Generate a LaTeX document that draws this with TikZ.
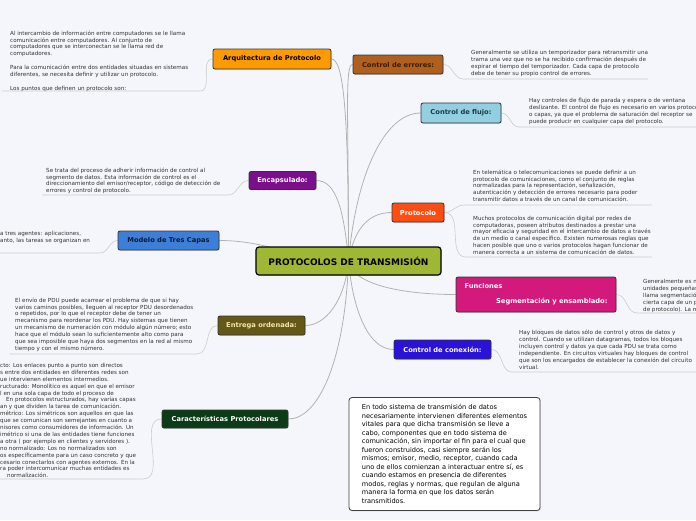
\documentclass[tikz,border=0pt]{standalone}
\usepackage{fontspec}
\setmainfont{DejaVu Sans}
\usetikzlibrary{shadows,backgrounds,calc}
\definecolor{bg}{HTML}{F5F6FB}
\definecolor{cmain}{HTML}{9FB833}
\definecolor{carq}{HTML}{FF9B00}
\definecolor{cerr}{HTML}{B0601E}
\definecolor{cerrtxt}{HTML}{3D1C00}
\definecolor{cflujo}{HTML}{92CFE0}
\definecolor{cflujotxt}{HTML}{1E3B45}
\definecolor{cencap}{HTML}{7B0E8A}
\definecolor{cproto}{HTML}{FF4D12}
\definecolor{cmodelo}{HTML}{3D7FD8}
\definecolor{cmodelotxt}{HTML}{0A1A33}
\definecolor{cfunc}{HTML}{D4197C}
\definecolor{centrega}{HTML}{655816}
\definecolor{centregatxt}{HTML}{F2E6B0}
\definecolor{cconex}{HTML}{2B12D8}
\definecolor{ccarac}{HTML}{0B3B17}
\definecolor{notetxt}{HTML}{333333}
\begin{document}
\begin{tikzpicture}[x=1pt,y=1pt,
  branch/.style={draw=black!80, line width=0.8pt, rounded corners=2pt, inner sep=0pt,
    minimum height=19pt, font=\fontsize{6.7}{8}\selectfont\bfseries,
    drop shadow={shadow xshift=0.6pt, shadow yshift=-0.9pt, opacity=0.25}},
  note/.style={font=\fontsize{5.6}{6.9}\selectfont, text=notetxt, align=left, inner sep=0pt, anchor=north west},
  uline/.style={draw=black!20, line width=0.6pt},
  link/.style={draw=black!30, line width=0.8pt}]
\begin{scope}[on background layer]
\fill[bg] (0,0) rectangle (696,-520);
\end{scope}
\useasboundingbox (0,0) rectangle (696,-520);

% ---------- main and branch nodes ----------
\node[branch, fill=cmain, draw=black, line width=1.2pt, rounded corners=3pt,
  minimum width=185pt, minimum height=28pt, font=\fontsize{9}{10}\selectfont\bfseries]
  (main) at (348.5,-261) {PROTOCOLOS DE TRANSMISIÓN};
\node[branch, fill=carq, minimum width=118pt, minimum height=20pt] (arq) at (272,-59) {Arquitectura de Protocolo};
\node[branch, fill=cerr, text=cerrtxt, minimum width=90pt] (err) at (398,-64.5) {Control de errores:};
\node[branch, fill=cflujo, text=cflujotxt, minimum width=80pt, minimum height=20pt] (flujo) at (461,-113) {Control de flujo:};
\node[branch, fill=cencap, text=white, minimum width=67pt, minimum height=18pt] (encap) at (282.5,-180.5) {Encapsulado:};
\node[branch, fill=cproto, text=white, minimum width=52pt] (proto) at (418,-212.5) {Protocolo};
\node[branch, fill=cmodelo, text=cmodelotxt, minimum width=101pt] (modelo) at (168.5,-240.5) {Modelo de Tres Capas};
\node[branch, fill=cfunc, text=white, minimum width=160pt, minimum height=35pt, align=left]
  (func) at (536,-294.5) {Funciones\\[7pt]\makebox[143pt][r]{Segmentación y ensamblado:}};
\node[branch, fill=centrega, text=centregatxt, minimum width=87pt] (entrega) at (261.5,-325.5) {Entrega ordenada:};
\node[branch, fill=cconex, text=white, minimum width=97pt] (conex) at (442.5,-349.5) {Control de conexión:};
\node[branch, fill=ccarac, text=white, minimum width=126pt, minimum height=18pt] (carac) at (225,-419) {Características Protocolares};

\node[draw=black!75, fill=white, rounded corners=3pt, line width=0.8pt, inner sep=0pt,
  minimum width=191pt, minimum height=113pt, align=left, font=\fontsize{6.6}{8.5}\selectfont,
  drop shadow={shadow xshift=0.6pt, shadow yshift=-0.9pt, opacity=0.25}]
  (box) at (444.5,-454) {En todo sistema de transmisión de datos\\
necesariamente intervienen diferentes elementos\\
vitales para que dicha transmisión se lleve a\\
cabo, componentes que en todo sistema de\\
comunicación, sin importar el fin para el cual que\\
fueron construidos, casi siempre serán los\\
mismos; emisor, medio, receptor, cuando cada\\
uno de ellos comienzan a interactuar entre sí, es\\
cuando estamos en presencia de diferentes\\
modos, reglas y normas, que regulan de alguna\\
manera la forma en que los datos serán\\
transmitidos.};

% ---------- notes ----------
\node[note] (tltxt) at (10,-30.5) {Al intercambio de información entre computadores se le llama\\
comunicación entre computadores. Al conjunto de\\
computadores que se interconectan se le llama red de\\
computadores.\\[6.9pt]
Para la comunicación entre dos entidades situadas en sistemas\\
diferentes, se necesita definir y utilizar un protocolo.\\[6.9pt]
Los puntos que definen un protocolo son:};

\node[note] (errtxt) at (471,-50.5) {Generalmente se utiliza un temporizador para retransmitir una\\
trama una vez que no se ha recibido confirmación después de\\
expirar el tiempo del temporizador. Cada capa de protocolo\\
debe de tener su propio control de errores.};

\node[note] (flujotxt) at (529,-98.5) {Hay controles de flujo de parada y espera o de ventana\\
deslizante. El control de flujo es necesario en varios protocolos\\
o capas, ya que el problema de saturación del receptor se\\
puede producir en cualquier capa del protocolo.};

\node[note] (encaptxt) at (46,-167.5) {Se trata del proceso de adherir información de control al\\
segmento de datos. Esta información de control es el\\
direccionamiento del emisor/receptor, código de detección de\\
errores y control de protocolo.};

\node[note] (prototxta) at (473,-169.5) {En telemática o telecomunicaciones se puede definir a un\\
protocolo de comunicaciones, como el conjunto de reglas\\
normalizadas para la representación, señalización,\\
autenticación y detección de errores necesario para poder\\
transmitir datos a través de un canal de comunicación.};

\node[note] (prototxtb) at (473,-215.5) {Muchos protocolos de comunicación digital por redes de\\
computadoras, poseen atributos destinados a prestar una\\
mayor eficacia y seguridad en el intercambio de datos a través\\
de un medio o canal específico. Existen numerosas reglas que\\
hacen posible que uno o varios protocolos hagan funcionar de\\
manera correcta a un sistema de comunicación de datos.};

\node[note] (modelotxt) at (0,-231.5) {a tres agentes: aplicaciones,\\
anto, las tareas se organizan en};

\node[note] (functxt) at (643,-279.5) {Generalmente es necesario dividir los bloques de datos en\\
unidades pequeñas e iguales en tamaño, y este proceso se le\\
llama segmentación. Un bloque de datos que intercambian dos\\
cierta capa de un protocolo se le llama PDU (Unidad de datos\\
de protocolo). La necesidad de la segmentación};

\node[note] (entregatxt) at (15,-297.5) {El envío de PDU puede acarrear el problema de que si hay\\
varios caminos posibles, lleguen al receptor PDU desordenados\\
o repetidos, por lo que el receptor debe de tener un\\
mecanismo para reordenar los PDU. Hay sistemas que tienen\\
un mecanismo de numeración con módulo algún número; esto\\
hace que el módulo sean lo suficientemente alto como para\\
que sea imposible que haya dos segmentos en la red al mismo\\
tiempo y con el mismo número.};

\node[note] (conextxt) at (519,-330) {Hay bloques de datos sólo de control y otros de datos y\\
control. Cuando se utilizan datagramas, todos los bloques\\
incluyen control y datos ya que cada PDU se trata como\\
independiente. En circuitos virtuales hay bloques de control\\
que son los encargados de establecer la conexión del circuito\\
virtual.};

\node[note] (caractxt) at (0,-363) {cto: Los enlaces punto a punto son directos\\
s entre dos entidades en diferentes redes son\\
ue intervienen elementos intermedios.\\
ructurado: Monolítico es aquel en que el emisor\\
l en una sola capa de todo el proceso de\\
\hspace*{6pt}En protocolos estructurados, hay varias capas\\
an y que dividen la tarea de comunicación.\\
métrico: Los simétricos son aquellos en que las\\
que se comunican son semejantes en cuanto a\\
nisores como consumidores de información. Un\\
imétrico si una de las entidades tiene funciones\\
a otra ( por ejemplo en clientes y servidores ).\\
no normalizado: Los no normalizados son\\
os específicamente para un caso concreto y que\\
cesario conectarlos con agentes externos. En la\\
ra poder intercomunicar muchas entidades es\\
\hspace*{7pt}normalización.};

% ---------- underline coordinates ----------
\coordinate (tlL) at (2,-91);   \coordinate (tlR) at (200,-91);
\coordinate (errL) at (463,-79); \coordinate (errR) at (648,-79);
\coordinate (flujoL) at (519,-127); \coordinate (flujoR) at (700,-127);
\coordinate (encapL) at (42,-195); \coordinate (encapR) at (228,-195);
\coordinate (protoaL) at (464,-205); \coordinate (protoaR) at (652,-205);
\coordinate (protobL) at (466,-257); \coordinate (protobR) at (652,-257);
\coordinate (modeloL) at (-2,-253); \coordinate (modeloR) at (100,-253);
\coordinate (funcL) at (637,-313); \coordinate (funcR) at (700,-313);
\coordinate (entregaL) at (10,-354); \coordinate (entregaR) at (197,-354);
\coordinate (conexL) at (512,-372); \coordinate (conexR) at (700,-372);
\coordinate (caracL) at (-2,-479); \coordinate (caracR) at (143,-479);

\begin{scope}[on background layer]
% connectors from the central topic
\draw[link] (main.center) to[out=90,in=0,out distance=150pt,in distance=12pt] (arq.east);
\draw[link] (main.center) to[out=90,in=180,out distance=150pt,in distance=8pt] (err.west);
\draw[link] (main.center) to[out=85,in=180,out distance=90pt,in distance=35pt] (flujo.west);
\draw[link] (main.center) to[out=95,in=0,out distance=50pt,in distance=20pt] (encap.east);
\draw[link] (main.center) to[out=80,in=180,out distance=30pt,in distance=25pt] (proto.west);
\draw[link] (main.center) to[out=180,in=0] (modelo.east);
\draw[link] (main.center) to[out=-80,in=180,out distance=25pt,in distance=50pt] (func.west);
\draw[link] (main.center) to[out=-95,in=0,out distance=40pt,in distance=20pt] (entrega.east);
\draw[link] (main.center) to[out=-85,in=180,out distance=50pt,in distance=25pt] (conex.west);
\draw[link] (main.center) to[out=-92,in=0,out distance=100pt,in distance=30pt] (carac.east);
% note underlines
\draw[uline] (tlL) -- (tlR) to[out=0,in=180] (arq.west);
\draw[uline] (err.east) to[out=0,in=180] (errL) -- (errR);
\draw[uline] (flujo.east) to[out=0,in=180] (flujoL) -- (flujoR);
\draw[uline] (encapL) -- (encapR) to[out=0,in=180] (encap.west);
\draw[uline] (proto.east) to[out=0,in=180] (protoaL) -- (protoaR);
\draw[uline] (proto.east) to[out=0,in=180] (protobL) -- (protobR);
\draw[uline] (modeloL) -- (modeloR) to[out=0,in=180] (modelo.west);
\draw[uline] (func.east) to[out=0,in=180] (funcL) -- (funcR);
\draw[uline] (entregaL) -- (entregaR) to[out=0,in=180] (entrega.west);
\draw[uline] (conex.east) to[out=0,in=180] (conexL) -- (conexR);
\draw[uline] (caracL) -- (caracR) to[out=0,in=180] (carac.west);
\end{scope}
\end{tikzpicture}
\end{document}
